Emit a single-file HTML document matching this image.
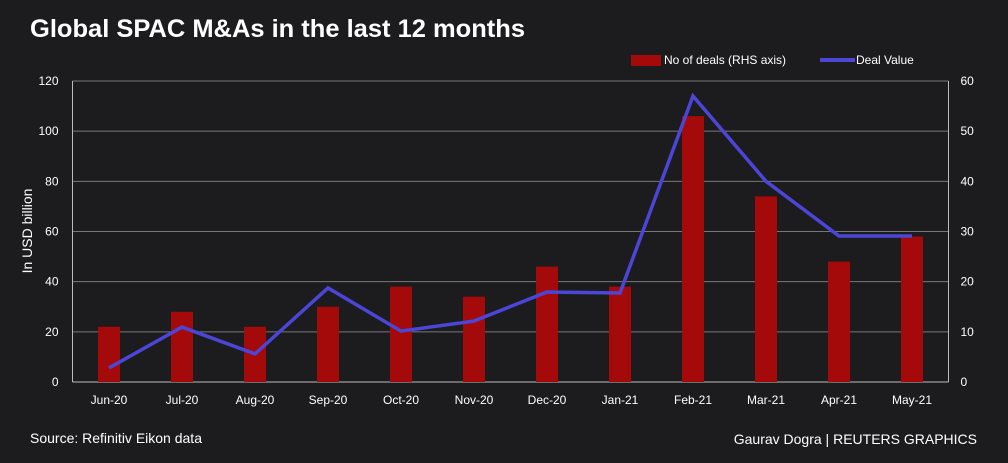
<!DOCTYPE html>
<html><head><meta charset="utf-8"><style>
body{margin:0;background:#1c1c1e;}
svg{display:block;font-family:"Liberation Sans",sans-serif;}
</style></head><body>
<svg id="c" width="1008" height="463">
<rect width="1008" height="463" fill="#1c1c1e"/>
<text x="30" y="37" fill="#fff" font-size="25" font-weight="bold" textLength="495" lengthAdjust="spacingAndGlyphs">Global SPAC M&amp;As in the last 12 months</text>
<g>
<rect x="631" y="55" width="30" height="11" fill="#a50a0a"/>
<text x="664" y="64" fill="#fff" font-size="12">No of deals (RHS axis)</text>
<line x1="820" y1="60" x2="855" y2="60" stroke="#4b46d8" stroke-width="4"/>
<text x="856" y="64" fill="#fff" font-size="12">Deal Value</text>
</g>
<text transform="translate(32,231) rotate(-90)" text-anchor="middle" fill="#fff" font-size="14">In USD billion</text>
<text x="30" y="443" fill="#fff" font-size="14">Source: Refinitiv Eikon data</text>
<text x="977" y="444" text-anchor="end" fill="#fff" font-size="14">Gaurav Dogra | REUTERS GRAPHICS</text>
<g id="plot"></g>
</svg>
<script>
const categories=["Jun-20","Jul-20","Aug-20","Sep-20","Oct-20","Nov-20","Dec-20","Jan-21","Feb-21","Mar-21","Apr-21","May-21"];
const deals=[11,14,11,15,19,17,23,19,53,37,24,29];
const dealValue=[5.6,21.9,11.2,37.5,20.3,24.3,35.9,35.5,114,80,58.2,58.2];
const leftTicks=[0,20,40,60,80,100,120];
const rightTicks=[0,10,20,30,40,50,60];
const L=72.5,R=948.5,T=81,B=382;
const NS="http://www.w3.org/2000/svg";
const g=document.getElementById('plot');
const step=(R-L)/categories.length;
const x=i=>L+step*(i+0.5);
const yl=v=>B-(v/120)*(B-T);
const yr=v=>B-(v/60)*(B-T);
function mk(t,a){const e=document.createElementNS(NS,t);for(const k in a)e.setAttribute(k,a[k]);g.appendChild(e);return e;}
leftTicks.forEach((v,i)=>{
 const ln=mk('line',{x1:L,x2:R,y1:yl(v),y2:yl(v),stroke:v===0?'#bbb':'#777','stroke-width':1});
 
 
 const t=mk('text',{x:L-14,y:yl(v)+4,'text-anchor':'end',fill:'#fff','font-size':12});t.textContent=v;
 
 
});
rightTicks.forEach(v=>{
 const t=mk('text',{x:R+12,y:yr(v)+4,fill:'#fff','font-size':12});t.textContent=v;
 
 
});
[L,R].forEach(xx=>{const a=mk('line',{x1:xx,x2:xx,y1:T,y2:B,stroke:'#bbb'});
 
 });
categories.forEach((c,i)=>{
 const b=mk('rect',{x:x(i)-11,y:yr(deals[i]),width:22,height:B-yr(deals[i]),fill:'#a50a0a'});
 
 
 const t=mk('text',{x:x(i),y:404,'text-anchor':'middle',fill:'#fff','font-size':12});t.textContent=c;
 
 
});
const p=mk('polyline',{points:dealValue.map((v,i)=>x(i)+','+yl(v)).join(' '),fill:'none',stroke:'#4b46d8','stroke-width':3.5,'stroke-linejoin':'miter'});


</script>
</body></html>
